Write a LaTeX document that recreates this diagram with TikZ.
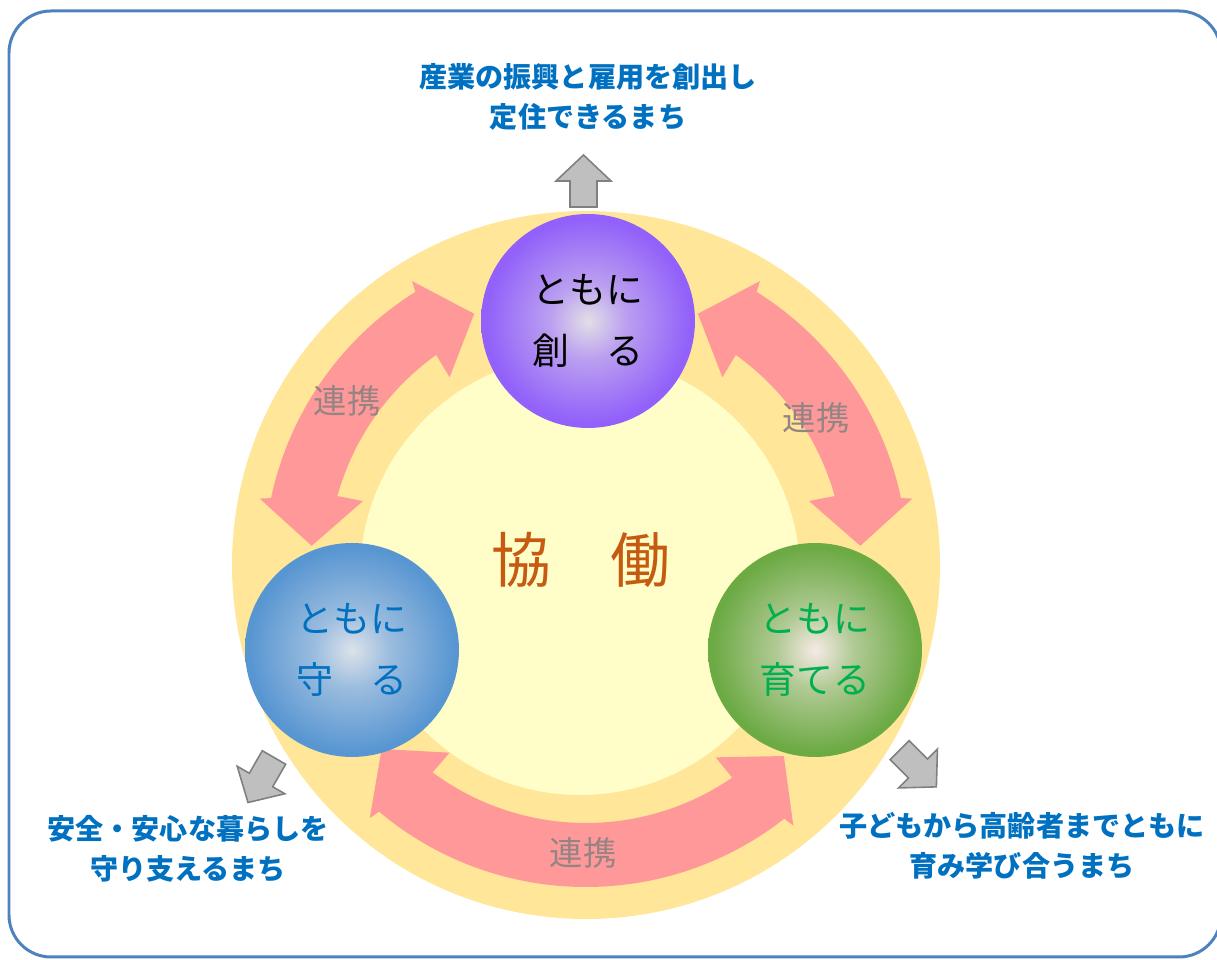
\documentclass[tikz,border=0pt]{standalone}
\usepackage{fontspec}
\usepackage{tikz}
\usetikzlibrary{calc, positioning}
\usepackage{xcolor}
\newfontfamily\jpfont{Noto Sans CJK JP}

\definecolor{framec}{RGB}{79,129,189}
\definecolor{ringc}{RGB}{255,230,153}
\definecolor{innerc}{RGB}{255,253,200}
\definecolor{linkpink}{RGB}{255,153,153}
\definecolor{goalblue}{RGB}{0,112,192}
\definecolor{kyoorange}{RGB}{197,90,17}
\definecolor{teamgreen}{RGB}{0,176,80}
\definecolor{linkgray}{RGB}{150,132,132}
\definecolor{arrowgray}{RGB}{191,191,191}
\definecolor{arrowedge}{RGB}{128,128,128}
\definecolor{purpedge}{RGB}{146,96,250}
\definecolor{purpmid}{RGB}{226,222,230}
\definecolor{blueedge}{RGB}{88,150,210}
\definecolor{bluemid}{RGB}{220,226,234}
\definecolor{greenedge}{RGB}{108,170,68}
\definecolor{greenmid}{RGB}{246,234,230}

% 25bp is the rim of the shaded circle
\pgfdeclareradialshading{purpball}{\pgfpoint{0bp}{0bp}}{color(0bp)=(purpmid); color(9bp)=(purpmid!50!purpedge); color(24bp)=(purpedge); color(50bp)=(purpedge)}
\pgfdeclareradialshading{blueball}{\pgfpoint{0bp}{0bp}}{color(0bp)=(bluemid); color(9bp)=(bluemid!50!blueedge); color(24bp)=(blueedge); color(50bp)=(blueedge)}
\pgfdeclareradialshading{greenball}{\pgfpoint{0bp}{0bp}}{color(0bp)=(greenmid); color(9bp)=(greenmid!50!greenedge); color(24bp)=(greenedge); color(50bp)=(greenedge)}

% curved two-headed link arrow round (ctr), from angle #1 to angle #2
\newcommand{\linkarrow}[2]{%
  \fill[linkpink] ($(ctr)+(#1:275)$) -- ($(ctr)+({#1+7.5}:333)$) -- ($(ctr)+({#1+8}:322)$)
    arc[start angle={#1+8}, end angle={#2-8}, radius=322]
    -- ($(ctr)+({#2-7.5}:333)$) -- ($(ctr)+(#2:275)$) -- ($(ctr)+({#2-12}:232)$)
    -- ($(ctr)+({#2-11.5}:258)$)
    arc[start angle={#2-11.5}, end angle={#1+11.5}, radius=258]
    -- ($(ctr)+({#1+12}:232)$) -- cycle;}

\tikzset{goalarrow/.pic={
  \draw[fill=arrowgray, draw=arrowedge, line width=0.9pt]
    (26,0) -- (0,27.5) -- (0,13.5) -- (-26,13.5) -- (-26,-13.5) -- (0,-13.5) -- (0,-27.5) -- cycle;}}

\begin{document}
\begin{tikzpicture}[x=0.02cm, y=0.02cm]
    \tikzstyle{ball}=[circle, shade, minimum size=4.28cm, inner sep=0pt, align=center, font=\jpfont\fontsize{21}{35}\selectfont]
    \tikzstyle{goal}=[align=center, text=goalblue, font=\jpfont\bfseries\fontsize{16}{22.7}\selectfont]
    \tikzstyle{linklabel}=[text=linkgray, font=\jpfont\fontsize{19}{22}\selectfont]

    \useasboundingbox (0,0) rectangle (1217,960);
    \draw[framec, line width=0.06cm, rounded corners=0.84cm] (9,3) rectangle (1221,949);

    % ring and core
    \coordinate (ctr) at (586,395);
    \fill[ringc] (ctr) circle[radius=354];
    \fill[innerc] (580,385) circle[radius=220];

    % link arrows
    \linkarrow{114}{176}
    \linkarrow{4}{66}
    \linkarrow{222}{316}

    % goal arrows
    \pic[rotate=90] at (583.5,779) {goalarrow};
    \pic[rotate=240] at (261,180) {goalarrow};
    \pic[rotate=315] at (918,191.5) {goalarrow};

    \node[ball, shading=purpball] (create) at (588,639) {ともに\\創　る};
    \node[ball, shading=blueball, text=goalblue] (protect) at (352,310) {ともに\\守　る};
    \node[ball, shading=greenball, text=teamgreen] (grow) at (815,310) {ともに\\育てる};

    \node[text=kyoorange, font=\jpfont\fontsize{34}{40}\selectfont] (kyodo) at (581,400) {協　働};

    \node[linklabel] (linkL) at (347,559) {連携};
    \node[linklabel] (linkR) at (816,542) {連携};
    \node[linklabel] (linkB) at (583,107) {連携};

    \node[goal] (goalcreate) at (588,863) {産業の振興と雇用を創出し\\定住できるまち};
    \node[goal] (goalprotect) at (188,111) {安全・安心な暮らしを\\守り支えるまち};
    \node[goal] (goalgrow) at (1022,114) {子どもから高齢者までともに\\育み学び合うまち};
\end{tikzpicture}
\end{document}
